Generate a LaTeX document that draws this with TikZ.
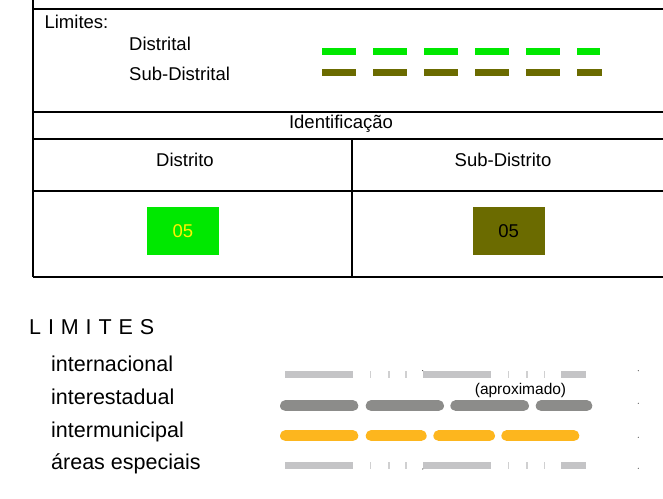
\documentclass[tikz,border=0pt]{standalone}
\usepackage{fontspec}
\setmainfont{Liberation Sans}
\definecolor{distgreen}{RGB}{0,232,0}
\definecolor{subolive}{RGB}{107,107,0}
\definecolor{limgray}{RGB}{196,196,198}
\definecolor{estgray}{RGB}{140,140,138}
\definecolor{munorange}{RGB}{253,182,30}
\tikzset{
  tabline/.style={black, line width=1.8pt},
  toptxt/.style={inner sep=0pt, font=\fontsize{18.5}{22}\selectfont},
  bottxt/.style={inner sep=0pt, anchor=base west, font=\fontsize{21.5}{26}\selectfont},
  idbox/.style={inner sep=0pt, minimum width=71.6pt, minimum height=47.7pt, font=\fontsize{18.5}{22}\selectfont},
  thinbar/.style={limgray, line width=7pt},
  tickline/.style={limgray!80, line width=1.2pt},
  roundbar/.style={line width=11pt, line cap=round},
  speck/.style={black!70}
}
\begin{document}
\begin{tikzpicture}[x=1pt,y=-1pt]
\useasboundingbox (0,0) rectangle (663,498);
\fill[white] (0,0) rectangle (663,498);

\draw[tabline] (33,0) -- (33,277);
\draw[tabline] (33,9) -- (663,9);
\draw[tabline] (33,112) -- (663,112);
\draw[tabline] (33,139) -- (663,139);
\draw[tabline] (33,191) -- (663,191);
\draw[tabline] (33,277) -- (663,277);
\draw[tabline] (352,139) -- (352,277);

\node[toptxt, anchor=base west] (limites) at (44.4,28.3) {Limites:};
\node[toptxt, anchor=base west] (distrital) at (129,50) {Distrital};
\node[toptxt, anchor=base west] (subdistrital) at (129,80) {Sub-Distrital};

\draw[distgreen, line width=7pt, dash pattern=on 34pt off 17pt] (322,51) -- (600,51);
\draw[subolive, line width=7pt, dash pattern=on 34pt off 17pt] (322,72) -- (602,72);

\node[toptxt, anchor=base] (ident) at (341,128.3) {Identificação};
\node[toptxt, anchor=base] (distrito) at (185,166.7) {Distrito};
\node[toptxt, anchor=base] (subdistrito) at (503,166.7) {Sub-Distrito};

\node[idbox, fill=distgreen, text=yellow] (boxdist) at (182.8,231.2) {05};
\node[idbox, fill=subolive, text=black] (boxsub) at (508.7,231.2) {05};

\node[bottxt] (limtitle) at (29,334.3) {\spaceskip=6.9pt L I M I T E S};
\node[bottxt] (internac) at (51,371.7) {internacional};
\node[bottxt] (interest) at (51,404.3) {interestadual};
\node[bottxt] (intermun) at (51,437.3) {intermunicipal};
\node[bottxt] (areas) at (51,469.5) {áreas especiais};

\draw[thinbar] (285,374.3) -- (352.7,374.3);
\draw[thinbar] (423.3,374.3) -- (491,374.3);
\draw[thinbar] (561,374.3) -- (586,374.3);
\draw[thinbar] (285,465.3) -- (352.7,465.3);
\draw[thinbar] (423.3,465.3) -- (491,465.3);
\draw[thinbar] (561,465.3) -- (586,465.3);
\foreach \x in {370.7,389,406,508.7,527,544.7} {
  \draw[tickline] (\x,371) -- (\x,377.7);
  \draw[tickline] (\x,462) -- (\x,468.7);
}

\node[inner sep=0pt, font=\fontsize{15.5}{18}\selectfont] (aprox) at (520.5,390) {(aproximado)};

\draw[roundbar, estgray] (285.5,405.7) -- (352.8,405.7);
\draw[roundbar, estgray] (371.2,405.7) -- (438.5,405.7);
\draw[roundbar, estgray] (455.8,405.7) -- (523.5,405.7);
\draw[roundbar, estgray] (541.2,405.7) -- (586.8,405.7);

\draw[roundbar, munorange] (285.5,435.7) -- (352.8,435.7);
\draw[roundbar, munorange] (371.2,435.7) -- (421.2,435.7);
\draw[roundbar, munorange] (438.8,435.7) -- (489.5,435.7);
\draw[roundbar, munorange] (506.8,435.7) -- (573.8,435.7);

\fill[speck] (422.7,370.6) circle (0.6);
\fill[speck] (422.7,469) circle (0.6);
\fill[speck] (638.3,370.7) circle (0.6);
\fill[speck] (638.3,403.3) circle (0.6);
\fill[speck] (638.3,437.3) circle (0.6);
\fill[speck] (638.3,468.3) circle (0.6);
\end{tikzpicture}
\end{document}
